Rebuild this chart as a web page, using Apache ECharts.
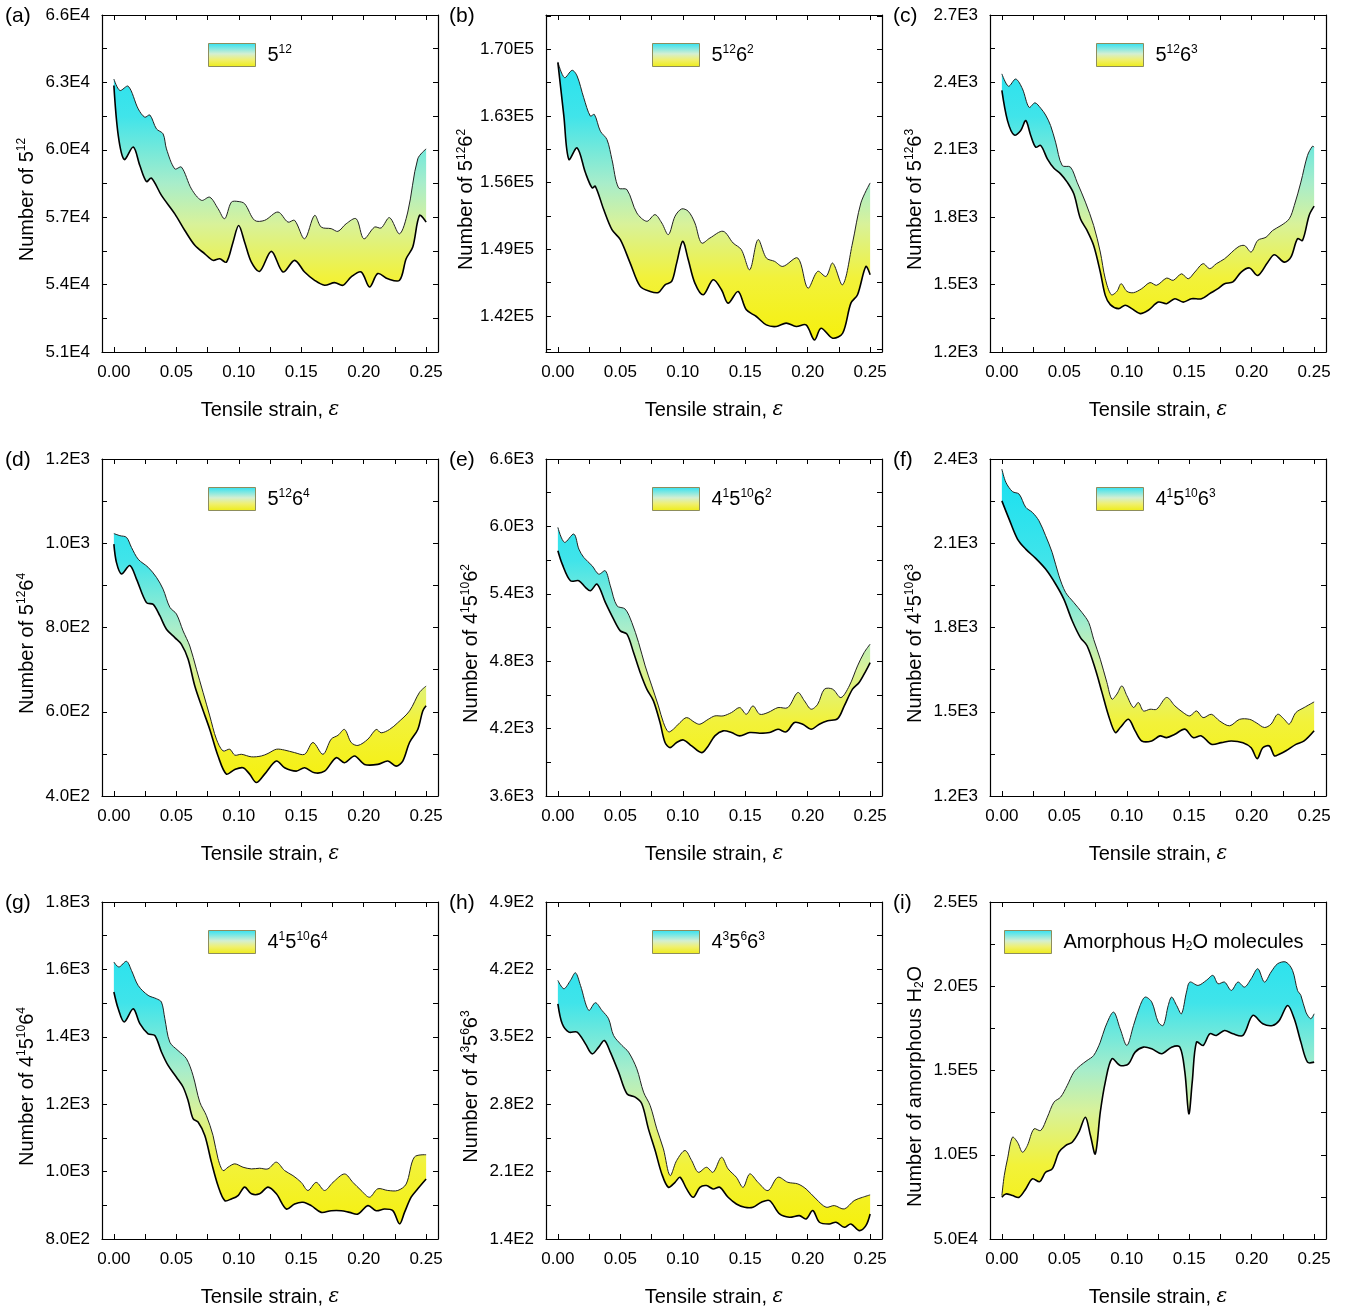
<!DOCTYPE html>
<html>
<head>
<meta charset="utf-8">
<script src="https://cdn.jsdelivr.net/npm/echarts@6/dist/echarts.min.js"></script>
</head>
<body style="margin:0;background:#fff">
<div id="main" style="width:1348px;height:1310px"></div>
<script>
// strain axis (shared by all panels)
var strainLabels = [0, 0.05, 0.10, 0.15, 0.20, 0.25];
var strainTicks = [0, 0.025, 0.05, 0.075, 0.1, 0.125, 0.15, 0.175, 0.2, 0.225, 0.25];

// (a) 5^12
var a_upper = [[0,63150],[0.0048,62640],[0.0115,62830],[0.0195,61820],[0.0248,61450],[0.0288,61550],[0.0341,60930],[0.0394,60710],[0.0421,60040],[0.0488,59150],[0.0541,59230],[0.0621,58260],[0.0701,57750],[0.0768,57890],[0.0834,57380],[0.0887,56930],[0.0941,57670],[0.0994,57700],[0.1047,57600],[0.1127,56860],[0.1207,56860],[0.1314,57230],[0.1394,56780],[0.1447,56860],[0.1527,56040],[0.1607,57080],[0.1660,56560],[0.1740,56490],[0.1794,56370],[0.1860,56710],[0.1940,56930],[0.2001,56040],[0.2087,56560],[0.2140,56520],[0.2207,56980],[0.2287,56260],[0.2353,57230],[0.2433,59600],[0.25,60040]];
var a_lower = [[0,62860],[0.0035,60640],[0.0083,59570],[0.0155,60120],[0.0208,59300],[0.0261,58590],[0.0301,58740],[0.0381,57970],[0.0488,57150],[0.0568,56410],[0.0648,55750],[0.0728,55370],[0.0794,55080],[0.0847,55150],[0.0901,55000],[0.0954,55890],[0.0999,56630],[0.1047,55890],[0.1101,55000],[0.1167,54590],[0.1261,55480],[0.1354,54560],[0.1447,55080],[0.1527,54560],[0.1607,54190],[0.1687,53970],[0.1767,54090],[0.1834,53970],[0.1900,54340],[0.1980,54560],[0.2047,53890],[0.2113,54490],[0.2193,54260],[0.2287,54190],[0.2340,55150],[0.2393,55670],[0.2447,57080],[0.25,56780]];
var a_yLabels = [51000, 54000, 57000, 60000, 63000, 66000];

// (b) 5^12 6^2
var b_upper = [[0,168670],[0.0053,167020],[0.0114,167790],[0.0154,167190],[0.0207,164910],[0.0260,162980],[0.0292,163160],[0.0340,161400],[0.0393,160520],[0.0433,158420],[0.0486,155440],[0.0553,155260],[0.0632,152810],[0.0712,151930],[0.0778,152630],[0.0832,151750],[0.0885,150530],[0.0938,152460],[0.0991,153230],[0.1044,152980],[0.1097,151750],[0.1150,149650],[0.1217,150170],[0.1323,150880],[0.1403,149650],[0.1469,148950],[0.1536,146840],[0.1602,150000],[0.1669,148070],[0.1735,147720],[0.1801,147190],[0.1921,148070],[0.2001,144910],[0.2080,146670],[0.2147,146140],[0.2200,147540],[0.2280,145260],[0.2359,149650],[0.2426,153860],[0.25,155960]];
var b_lower = [[0,168600],[0.0048,162980],[0.0088,158420],[0.0154,159650],[0.0221,157020],[0.0274,155440],[0.0300,155610],[0.0367,153160],[0.0433,151050],[0.0500,150000],[0.0579,147540],[0.0659,145090],[0.0739,144560],[0.0805,144460],[0.0858,145260],[0.0911,145610],[0.0951,147540],[0.0999,149820],[0.1044,147890],[0.1097,145440],[0.1164,144210],[0.1243,145790],[0.1310,144740],[0.1363,143330],[0.1443,144560],[0.1509,142630],[0.1589,141930],[0.1669,141050],[0.1748,140880],[0.1828,141230],[0.1908,140880],[0.1987,141050],[0.2054,139470],[0.2107,140700],[0.2200,139650],[0.2280,140170],[0.2346,143330],[0.2399,144210],[0.2466,147190],[0.25,146320]];
var b_yLabels = [142000, 149000, 156000, 163000, 170000];

// (c) 5^12 6^3
var c_upper = [[0,2438],[0.0053,2383],[0.0111,2415],[0.0165,2371],[0.0218,2289],[0.0265,2309],[0.0311,2285],[0.0350,2255],[0.0390,2208],[0.0430,2134],[0.0483,2030],[0.0549,2023],[0.0602,1956],[0.0669,1867],[0.0735,1763],[0.0788,1645],[0.0828,1526],[0.0876,1455],[0.0921,1470],[0.0955,1504],[0.1001,1470],[0.1054,1464],[0.1120,1482],[0.1186,1509],[0.1239,1497],[0.1319,1529],[0.1372,1519],[0.1438,1548],[0.1492,1526],[0.1545,1556],[0.1611,1593],[0.1664,1571],[0.1717,1593],[0.1783,1615],[0.1890,1667],[0.1943,1674],[0.1996,1645],[0.2049,1697],[0.2115,1711],[0.2168,1741],[0.2235,1763],[0.2301,1793],[0.2341,1852],[0.2394,1956],[0.2447,2075],[0.2487,2116],[0.25,2112]];
var c_lower = [[0,2364],[0.0045,2230],[0.0098,2166],[0.0151,2186],[0.0191,2230],[0.0231,2164],[0.0271,2112],[0.0311,2119],[0.0364,2060],[0.0417,2018],[0.0470,1993],[0.0523,1956],[0.0576,1904],[0.0629,1793],[0.0682,1741],[0.0735,1674],[0.0788,1556],[0.0828,1452],[0.0868,1411],[0.0934,1393],[0.0987,1408],[0.1040,1393],[0.1107,1371],[0.1173,1386],[0.1253,1422],[0.1319,1415],[0.1385,1437],[0.1452,1422],[0.1518,1437],[0.1598,1437],[0.1664,1460],[0.1730,1482],[0.1783,1504],[0.1850,1512],[0.1916,1556],[0.1983,1574],[0.2049,1541],[0.2129,1600],[0.2182,1633],[0.2261,1600],[0.2314,1622],[0.2367,1704],[0.2407,1697],[0.2460,1808],[0.25,1849]];
var c_yLabels = [1200, 1500, 1800, 2100, 2400, 2700];

// (d) 5^12 6^4
var d_upper = [[0,1023],[0.0048,1018],[0.0101,1014],[0.0141,990],[0.0195,962],[0.0274,943],[0.0341,919],[0.0394,891],[0.0448,848],[0.0501,832],[0.0554,792],[0.0608,756],[0.0661,701],[0.0714,646],[0.0768,590],[0.0821,535],[0.0874,507],[0.0928,511],[0.0968,497],[0.1021,499],[0.1101,493],[0.1181,495],[0.1234,501],[0.1301,511],[0.1367,509],[0.1447,503],[0.1527,499],[0.1594,527],[0.1674,499],[0.1740,535],[0.1794,544],[0.1847,558],[0.1900,527],[0.1954,520],[0.2034,535],[0.2100,558],[0.2140,550],[0.2207,558],[0.2273,574],[0.2367,602],[0.2447,646],[0.25,661]];
var d_lower = [[0,998],[0.0021,954],[0.0061,927],[0.0128,947],[0.0181,915],[0.0261,859],[0.0315,855],[0.0368,828],[0.0421,796],[0.0488,776],[0.0541,760],[0.0594,725],[0.0648,661],[0.0701,614],[0.0768,558],[0.0834,495],[0.0901,452],[0.0968,463],[0.1034,467],[0.1087,452],[0.1141,432],[0.1207,452],[0.1301,483],[0.1367,467],[0.1460,459],[0.1527,467],[0.1607,455],[0.1687,459],[0.1780,491],[0.1847,479],[0.1927,495],[0.2007,475],[0.2113,475],[0.2193,483],[0.2260,471],[0.2313,483],[0.2367,527],[0.2433,558],[0.2473,602],[0.25,614]];
var d_yLabels = [400, 600, 800, 1000, 1200];

// (e) 4^1 5^10 6^2
var e_upper = [[0,5991],[0.0053,5858],[0.0128,5932],[0.0168,5798],[0.0207,5724],[0.0274,5650],[0.0327,5575],[0.0380,5605],[0.0420,5471],[0.0473,5293],[0.0539,5264],[0.0592,5145],[0.0646,4967],[0.0699,4758],[0.0752,4580],[0.0805,4402],[0.0845,4254],[0.0885,4171],[0.0925,4195],[0.0978,4254],[0.1031,4298],[0.1097,4254],[0.1137,4239],[0.1204,4283],[0.1257,4313],[0.1323,4313],[0.1390,4343],[0.1456,4387],[0.1509,4328],[0.1562,4402],[0.1616,4328],[0.1682,4343],[0.1762,4387],[0.1841,4387],[0.1921,4521],[0.1974,4447],[0.2027,4373],[0.2080,4417],[0.2134,4551],[0.2200,4551],[0.2266,4476],[0.2333,4580],[0.2399,4758],[0.2452,4877],[0.25,4952]];
var e_lower = [[0,5783],[0.0035,5664],[0.0101,5516],[0.0168,5516],[0.0221,5457],[0.0261,5427],[0.0314,5486],[0.0380,5323],[0.0446,5174],[0.0500,5070],[0.0553,5041],[0.0606,4877],[0.0659,4699],[0.0712,4551],[0.0765,4447],[0.0818,4254],[0.0858,4076],[0.0898,4031],[0.0951,4076],[0.1005,4099],[0.1071,4046],[0.1151,3986],[0.1204,4046],[0.1257,4135],[0.1323,4180],[0.1390,4165],[0.1456,4135],[0.1536,4165],[0.1616,4159],[0.1695,4165],[0.1762,4194],[0.1828,4171],[0.1894,4254],[0.1961,4239],[0.2027,4194],[0.2093,4239],[0.2160,4269],[0.2240,4289],[0.2293,4402],[0.2359,4551],[0.2412,4610],[0.2466,4714],[0.25,4788]];
var e_yLabels = [3600, 4200, 4800, 5400, 6000, 6600];

// (f) 4^1 5^10 6^3
var f_upper = [[0,2364],[0.0032,2317],[0.0085,2284],[0.0138,2275],[0.0191,2228],[0.0244,2210],[0.0297,2180],[0.0350,2127],[0.0403,2067],[0.0457,1984],[0.0510,1925],[0.0576,1889],[0.0642,1853],[0.0695,1818],[0.0735,1758],[0.0788,1687],[0.0841,1604],[0.0881,1545],[0.0921,1563],[0.0961,1592],[0.1001,1557],[0.1054,1515],[0.1093,1533],[0.1133,1503],[0.1186,1509],[0.1239,1509],[0.1319,1551],[0.1385,1521],[0.1452,1497],[0.1505,1485],[0.1558,1503],[0.1611,1479],[0.1677,1491],[0.1744,1467],[0.1823,1450],[0.1903,1473],[0.1983,1473],[0.2036,1461],[0.2102,1444],[0.2155,1456],[0.2208,1491],[0.2261,1473],[0.2301,1456],[0.2354,1497],[0.2420,1515],[0.25,1535]];
var f_lower = [[0,2251],[0.0058,2186],[0.0125,2115],[0.0191,2079],[0.0271,2046],[0.0350,2008],[0.0430,1955],[0.0496,1901],[0.0563,1824],[0.0629,1764],[0.0682,1735],[0.0748,1652],[0.0802,1568],[0.0855,1485],[0.0908,1426],[0.0948,1444],[0.1014,1473],[0.1067,1432],[0.1120,1396],[0.1200,1396],[0.1266,1414],[0.1319,1408],[0.1385,1420],[0.1465,1438],[0.1531,1408],[0.1598,1414],[0.1677,1384],[0.1757,1390],[0.1837,1396],[0.1930,1390],[0.1996,1372],[0.2044,1333],[0.2089,1372],[0.2142,1378],[0.2182,1343],[0.2221,1349],[0.2275,1361],[0.2354,1384],[0.2420,1396],[0.25,1432]];
var f_yLabels = [1200, 1500, 1800, 2100, 2400];

// (g) 4^1 5^10 6^4
var g_upper = [[0,1622],[0.0040,1607],[0.0101,1624],[0.0141,1597],[0.0195,1552],[0.0274,1523],[0.0341,1513],[0.0381,1503],[0.0408,1454],[0.0448,1384],[0.0514,1359],[0.0581,1335],[0.0634,1285],[0.0688,1206],[0.0741,1166],[0.0794,1107],[0.0834,1038],[0.0874,1003],[0.0914,1013],[0.0968,1023],[0.1034,1013],[0.1101,1008],[0.1167,1010],[0.1234,1008],[0.1301,1028],[0.1367,1003],[0.1434,988],[0.1500,968],[0.1554,944],[0.1620,968],[0.1687,944],[0.1754,968],[0.1847,993],[0.1914,968],[0.1980,944],[0.2047,924],[0.2113,949],[0.2193,944],[0.2273,944],[0.2340,963],[0.2406,1043],[0.25,1050]];
var g_lower = [[0,1533],[0.0035,1483],[0.0083,1444],[0.0155,1483],[0.0208,1439],[0.0274,1409],[0.0328,1404],[0.0381,1355],[0.0434,1315],[0.0501,1280],[0.0554,1251],[0.0594,1211],[0.0634,1157],[0.0674,1147],[0.0728,1107],[0.0781,1028],[0.0834,958],[0.0888,914],[0.0941,919],[0.0994,929],[0.1047,954],[0.1101,934],[0.1167,934],[0.1234,954],[0.1301,934],[0.1381,889],[0.1447,904],[0.1514,909],[0.1580,899],[0.1660,879],[0.1740,884],[0.1820,884],[0.1887,879],[0.1954,874],[0.2034,899],[0.2100,884],[0.2167,889],[0.2233,884],[0.2287,845],[0.2327,879],[0.2380,924],[0.2433,949],[0.25,978]];
var g_yLabels = [800, 1000, 1200, 1400, 1600, 1800];

// (h) 4^3 5^6 6^3
var h_upper = [[0,408.6],[0.0048,399.9],[0.0101,408.6],[0.0141,416.5],[0.0181,403.4],[0.0247,377.4],[0.0300,385.4],[0.0353,377.4],[0.0406,368.7],[0.0446,351.4],[0.0513,341.0],[0.0566,334.1],[0.0632,316.8],[0.0686,292.5],[0.0739,278.6],[0.0792,254.4],[0.0845,233.6],[0.0898,205.9],[0.0951,221.5],[0.1018,231.9],[0.1071,221.5],[0.1124,209.3],[0.1190,214.5],[0.1243,209.3],[0.1310,224.9],[0.1363,212.8],[0.1429,204.1],[0.1483,193.7],[0.1536,207.6],[0.1602,198.9],[0.1682,190.3],[0.1761,204.1],[0.1841,198.9],[0.1921,197.2],[0.1987,192.0],[0.2067,181.6],[0.2147,173.0],[0.2213,174.7],[0.2293,171.2],[0.2372,179.9],[0.2439,183.3],[0.25,185.8]];
var h_lower = [[0,384.3],[0.0035,363.5],[0.0088,354.9],[0.0154,354.9],[0.0221,342.7],[0.0274,332.3],[0.0327,339.3],[0.0372,346.2],[0.0420,334.1],[0.0486,313.3],[0.0553,290.8],[0.0619,287.3],[0.0672,280.4],[0.0725,254.4],[0.0779,231.9],[0.0832,207.6],[0.0885,193.7],[0.0938,198.9],[0.0978,204.1],[0.1031,192.0],[0.1084,183.3],[0.1137,193.7],[0.1190,195.5],[0.1243,192.0],[0.1296,193.7],[0.1363,183.3],[0.1429,176.4],[0.1496,173.0],[0.1562,173.0],[0.1629,178.2],[0.1695,179.9],[0.1775,166.0],[0.1854,162.6],[0.1934,164.3],[0.1987,160.8],[0.2041,169.5],[0.2094,157.4],[0.2174,155.6],[0.2227,157.4],[0.2293,152.2],[0.2346,155.6],[0.2412,148.7],[0.2466,153.9],[0.25,166.0]];
var h_yLabels = [140, 210, 280, 350, 420, 490];

// (i) amorphous H2O
var i_upper = [[0,75760],[0.0019,87640],[0.0045,97540],[0.0085,110410],[0.0125,107440],[0.0165,101500],[0.0204,105460],[0.0257,115360],[0.0311,114370],[0.0364,122290],[0.0417,131200],[0.0470,134170],[0.0523,141100],[0.0576,149020],[0.0629,152980],[0.0682,155950],[0.0735,158920],[0.0788,166840],[0.0828,175750],[0.0894,184660],[0.0947,174760],[0.1001,164860],[0.1054,176740],[0.1107,188620],[0.1147,193570],[0.1200,190600],[0.1252,178720],[0.1292,176740],[0.1332,188620],[0.1359,193570],[0.1399,188620],[0.1438,183670],[0.1478,196540],[0.1505,202480],[0.1571,200500],[0.1637,203470],[0.1690,206440],[0.1730,201490],[0.1783,202480],[0.1837,197530],[0.1890,202480],[0.1943,199510],[0.1996,204460],[0.2049,210400],[0.2102,202480],[0.2155,208420],[0.2208,213370],[0.2274,214360],[0.2327,209410],[0.2367,197530],[0.2394,194560],[0.2434,184660],[0.2473,180700],[0.25,183670]];
var i_lower = [[0,74770],[0.0032,76750],[0.0085,75760],[0.0138,74770],[0.0191,79720],[0.0244,85660],[0.0303,84070],[0.0350,89620],[0.0403,91600],[0.0457,101500],[0.0510,105460],[0.0563,107440],[0.0616,113380],[0.0669,122290],[0.0709,111400],[0.0748,100510],[0.0788,125260],[0.0828,143080],[0.0881,156940],[0.0947,152980],[0.1014,153970],[0.1067,160900],[0.1133,163870],[0.1200,162880],[0.1279,159910],[0.1359,163870],[0.1425,163870],[0.1465,149020],[0.1497,124270],[0.1524,143080],[0.1558,166840],[0.1611,164860],[0.1664,171790],[0.1717,170800],[0.1783,173770],[0.1850,171790],[0.1930,170800],[0.2009,182680],[0.2089,177730],[0.2168,176740],[0.2221,179710],[0.2288,188620],[0.2341,180700],[0.2394,166840],[0.2447,154960],[0.25,154960]];
var i_yLabels = [50000, 100000, 150000, 200000, 250000];

var panels = [
    {tag: '(a)', up: a_upper, low: a_lower, yMin: 51000, yMax: 66000, yLabels: a_yLabels, dec: 1, key: '5{sup|12}'},
    {tag: '(b)', up: b_upper, low: b_lower, yMin: 138200, yMax: 173600, yLabels: b_yLabels, dec: 2, key: '5{sup|12}6{sup|2}'},
    {tag: '(c)', up: c_upper, low: c_lower, yMin: 1200, yMax: 2700, yLabels: c_yLabels, dec: 1, key: '5{sup|12}6{sup|3}'},
    {tag: '(d)', up: d_upper, low: d_lower, yMin: 400, yMax: 1200, yLabels: d_yLabels, dec: 1, key: '5{sup|12}6{sup|4}'},
    {tag: '(e)', up: e_upper, low: e_lower, yMin: 3600, yMax: 6600, yLabels: e_yLabels, dec: 1, key: '4{sup|1}5{sup|10}6{sup|2}'},
    {tag: '(f)', up: f_upper, low: f_lower, yMin: 1200, yMax: 2400, yLabels: f_yLabels, dec: 1, key: '4{sup|1}5{sup|10}6{sup|3}'},
    {tag: '(g)', up: g_upper, low: g_lower, yMin: 800, yMax: 1800, yLabels: g_yLabels, dec: 1, key: '4{sup|1}5{sup|10}6{sup|4}'},
    {tag: '(h)', up: h_upper, low: h_lower, yMin: 140, yMax: 490, yLabels: h_yLabels, dec: 1, key: '4{sup|3}5{sup|6}6{sup|3}'},
    {tag: '(i)', up: i_upper, low: i_lower, yMin: 50000, yMax: 250000, yLabels: i_yLabels, dec: 1,
        key: 'Amorphous H{sub|2}O molecules', yName: 'Number of amorphous H{sub|2}O'}
];

var FONT = 'Liberation Sans, Arial, sans-serif';
var colLeft = [102, 546, 990];
var rowTop = [15, 459, 902];
var gw = 336, gh = 337;
var SMOOTH = 0.32;

function sci(v, dec) {
    var e = Math.floor(Math.log10(Math.abs(v)) + 1e-9);
    return (v / Math.pow(10, e)).toFixed(dec) + 'E' + e;
}

// minor + major ticks every half label step inside [min, max]
function halfTicks(labels, min, max) {
    var step = (labels[1] - labels[0]) / 2, v = labels[0], out = [];
    while (v - step >= min - 1e-9) v -= step;
    for (; v <= max + 1e-9; v += step) out.push(v);
    return out;
}

function richStyles(size) {
    return {
        sup: {fontSize: Math.round(size * 0.6), fontFamily: FONT, color: '#000', verticalAlign: 'top', lineHeight: size + 2},
        sub: {fontSize: Math.round(size * 0.6), fontFamily: FONT, color: '#000', verticalAlign: 'bottom', lineHeight: size + 2},
        it: {fontSize: size, fontFamily: 'DejaVu Serif, serif', fontStyle: 'italic', color: '#000', lineHeight: size + 2}
    };
}

// bezier control points for a smoothed curve through pixel points
function controls(pts) {
    var n = pts.length, cin = [], cout = [];
    for (var i = 0; i < n; i++) {
        if (i === 0 || i === n - 1) { cin.push(pts[i]); cout.push(pts[i]); continue; }
        var p0 = pts[i - 1], p = pts[i], p1 = pts[i + 1];
        var vx = p1[0] - p0[0], vy = p1[1] - p0[1];
        var d0 = Math.hypot(p[0] - p0[0], p[1] - p0[1]);
        var d1 = Math.hypot(p1[0] - p[0], p1[1] - p[1]);
        var s = (d0 + d1) || 1;
        cin.push([p[0] - vx * SMOOTH * d0 / s, p[1] - vy * SMOOTH * d0 / s]);
        cout.push([p[0] + vx * SMOOTH * d1 / s, p[1] + vy * SMOOTH * d1 / s]);
    }
    return {cin: cin, cout: cout};
}
function xy(p) { return p[0].toFixed(2) + ' ' + p[1].toFixed(2); }
function forward(pts) {
    var c = controls(pts), s = '';
    for (var k = 0; k < pts.length - 1; k++) s += ' C' + xy(c.cout[k]) + ' ' + xy(c.cin[k + 1]) + ' ' + xy(pts[k + 1]);
    return s;
}
function backward(pts) {
    var c = controls(pts), s = '';
    for (var k = pts.length - 1; k > 0; k--) s += ' C' + xy(c.cin[k]) + ' ' + xy(c.cout[k - 1]) + ' ' + xy(pts[k - 1]);
    return s;
}

var option = {
    backgroundColor: '#fff',
    animation: false,
    title: [], grid: [], xAxis: [], yAxis: [], legend: [], series: []
};

panels.forEach(function (p, i) {
    var left = colLeft[i % 3], top = rowTop[Math.floor(i / 3)];
    var yTicks = halfTicks(p.yLabels, p.yMin, p.yMax);
    var axisLine = {show: true, onZero: false, lineStyle: {color: '#000', width: 1.2}};
    var tick = function (vals) {
        return {show: true, inside: true, length: 5, customValues: vals, lineStyle: {color: '#000', width: 1}};
    };
    var fill = {
        type: 'linear', x: 0, y: top, x2: 0, y2: top + gh, global: true,
        colorStops: [
            {offset: 0, color: '#12e0f2'},
            {offset: 0.3, color: '#40e4ea'},
            {offset: 0.5, color: '#a8edca'},
            {offset: 0.62, color: '#d8f29a'},
            {offset: 0.78, color: '#f2f23a'},
            {offset: 1, color: '#f6f004'}
        ]
    };
    var swatch = {
        type: 'linear', x: 0, y: 0, x2: 0, y2: 1,
        colorStops: [
            {offset: 0, color: '#2ee1f2'},
            {offset: 0.45, color: '#d4efd2'},
            {offset: 0.7, color: '#f0f070'},
            {offset: 1, color: '#eeec14'}
        ]
    };

    option.title.push({
        text: p.tag, left: left - 97, top: top - 9, padding: 0,
        textStyle: {fontSize: 21, fontWeight: 'normal', color: '#000', fontFamily: FONT}
    });
    option.grid.push({left: left, top: top, width: gw, height: gh, show: false});

    option.xAxis.push({
        gridIndex: i, type: 'value', min: -0.0095, max: 0.2595, position: 'bottom', z: 5,
        axisLine: axisLine, axisTick: tick(strainTicks), splitLine: {show: false},
        axisLabel: {
            customValues: strainLabels, margin: 12, color: '#000', fontSize: 17, fontFamily: FONT,
            formatter: function (v) { return v.toFixed(2); }
        },
        name: 'Tensile strain, {it|ε}', nameLocation: 'middle', nameGap: 47,
        nameTextStyle: {fontSize: 20, color: '#000', fontFamily: FONT, rich: richStyles(20)}
    });
    option.xAxis.push({
        gridIndex: i, type: 'value', min: -0.0095, max: 0.2595, position: 'top', z: 5,
        axisLine: axisLine, axisTick: tick(strainTicks), axisLabel: {show: false}, splitLine: {show: false}
    });

    option.yAxis.push({
        gridIndex: i, type: 'value', min: p.yMin, max: p.yMax, position: 'left', z: 5,
        axisLine: axisLine, axisTick: tick(yTicks), splitLine: {show: false},
        axisLabel: {
            customValues: p.yLabels, margin: 12, color: '#000', fontSize: 17, fontFamily: FONT,
            formatter: function (v) { return sci(v, p.dec); }
        },
        name: p.yName || ('Number of ' + p.key), nameLocation: 'middle', nameRotate: 90, nameGap: 64,
        nameTextStyle: {fontSize: 20, color: '#000', fontFamily: FONT, padding: [0, 32, 0, 0], rich: richStyles(20)}
    });
    option.yAxis.push({
        gridIndex: i, type: 'value', min: p.yMin, max: p.yMax, position: 'right', z: 5,
        axisLine: axisLine, axisTick: tick(yTicks), axisLabel: {show: false}, splitLine: {show: false}
    });

    var sname = 'band' + i;
    option.legend.push({
        left: i === 8 ? 1004 : left + 106,
        top: top + 28,
        padding: 0, icon: 'rect', itemWidth: 47, itemHeight: 23, selectedMode: false,
        data: [{name: sname, itemStyle: {color: swatch, borderColor: '#8d8d5c', borderWidth: 1}}],
        formatter: function () { return p.key; },
        textStyle: {fontSize: 20, color: '#000', fontFamily: FONT, padding: [0, 0, 0, 7], rich: richStyles(20)}
    });

    // band between the two curves, drawn from the data through the axis scales
    option.series.push({
        name: sname, type: 'custom', coordinateSystem: 'cartesian2d',
        xAxisIndex: 2 * i, yAxisIndex: 2 * i, data: p.up, clip: true,
        renderItem: function (params, api) {
            if (params.dataIndex !== 0) return null;
            var up = p.up.map(function (d) { return api.coord(d); });
            var low = p.low.map(function (d) { return api.coord(d); });
            var band = 'M' + xy(up[0]) + forward(up) + ' L' + xy(low[low.length - 1]) + backward(low) + ' Z';
            return {
                type: 'group',
                children: [
                    {type: 'path', shape: {pathData: band}, style: {fill: fill, stroke: null}},
                    {type: 'path', shape: {pathData: 'M' + xy(up[0]) + forward(up)},
                        style: {fill: null, stroke: '#222', lineWidth: 1}},
                    {type: 'path', shape: {pathData: 'M' + xy(low[0]) + forward(low)},
                        style: {fill: null, stroke: '#000', lineWidth: 1.6}}
                ]
            };
        }
    });
});

var myChart = echarts.init(document.getElementById('main'));
myChart.setOption(option);
</script>
</body>
</html>
